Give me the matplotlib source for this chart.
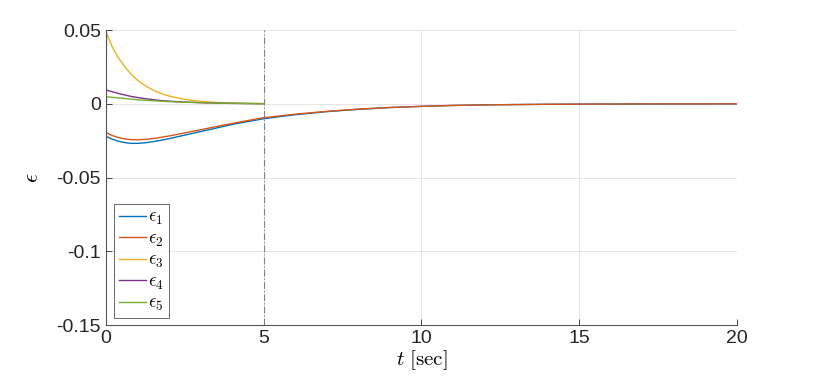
import matplotlib
matplotlib.use('Agg')
import matplotlib.pyplot as plt

plt.rcParams['font.family'] = ['Liberation Sans', 'DejaVu Sans']
plt.rcParams['mathtext.fontset'] = 'cm'

# time axes
t_long = [0, 0.02, 0.2, 0.4, 0.6, 0.8, 1.0, 1.25, 1.5, 1.75, 2.0,
          2.5, 3.0, 3.5, 4.0, 4.5, 5.0, 5.5, 6, 7, 8, 9, 10,
          11, 12, 13, 14, 15, 16, 17, 18, 19, 20]
t_short = [0, 0.02, 0.2, 0.4, 0.6, 0.8, 1.0, 1.25, 1.5, 1.75, 2.0,
           2.5, 3.0, 3.5, 4.0, 4.5, 5.0]

# errors
eps1 = [-0.0205, -0.0222, -0.0240, -0.0254, -0.0263, -0.0268, -0.0268, -0.0264, -0.0256, -0.0247, -0.0236,
        -0.0212, -0.0188, -0.0164, -0.0140, -0.0120, -0.0101, -0.0087, -0.0074, -0.0053, -0.0037, -0.0025, -0.0017,
        -0.0011, -0.0007, -0.0005, -0.0003, -0.0002, -0.00013, -0.00009, -0.00006, -0.00004, -0.00003]
eps2 = [-0.0185, -0.0197, -0.0215, -0.0229, -0.0238, -0.0243, -0.0244, -0.0241, -0.0235, -0.0227, -0.0218,
        -0.0197, -0.0176, -0.0154, -0.0133, -0.0113, -0.0094, -0.0082, -0.0070, -0.0051, -0.0036, -0.0025, -0.0017,
        -0.0011, -0.0007, -0.0005, -0.0003, -0.0002, -0.00013, -0.00009, -0.00006, -0.00004, -0.00003]
eps3 = [0.011, 0.048, 0.0385, 0.031, 0.025, 0.020, 0.016, 0.0122, 0.0092, 0.0070, 0.0053,
        0.0030, 0.0017, 0.0009, 0.0005, 0.0003, 0.0002]
eps4 = [0.0093, 0.0093, 0.0082, 0.0070, 0.0060, 0.0050, 0.0043, 0.0035, 0.0028, 0.0022, 0.0018,
        0.0012, 0.0008, 0.0005, 0.0003, 0.0002, 0.0001]
eps5 = [-0.009, 0.0048, 0.0044, 0.0040, 0.0036, 0.0032, 0.0028, 0.0024, 0.0021, 0.0018, 0.0015,
        0.0011, 0.0008, 0.0005, 0.0004, 0.0002, 0.0001]

labels = [r'$\epsilon_1$', r'$\epsilon_2$', r'$\epsilon_3$', r'$\epsilon_4$', r'$\epsilon_5$']
colors = ['#0072BD', '#D95319', '#EDB120', '#7E2F8E', '#77AC30']

xticks = [0, 5, 10, 15, 20]
yticks = [-0.15, -0.1, -0.05, 0, 0.05]
yticklabels = ['-0.15', '-0.1', '-0.05', '0', '0.05']
t_switch = 5

fig = plt.figure(figsize=(8.14, 3.86), dpi=100)
ax = fig.add_axes([0.1302, 0.158, 0.7752, 0.764])

series = [(t_long, eps1), (t_long, eps2), (t_short, eps3), (t_short, eps4), (t_short, eps5)]
for (t, e), lab, c in zip(series, labels, colors):
    ax.plot(t, e, color=c, lw=1.0, label=lab)

ax.axvline(t_switch, color='#808080', ls=(0, (6, 2, 1, 2)), lw=0.8)

ax.set_xlim(0, 20)
ax.set_ylim(-0.15, 0.05)
ax.set_xticks(xticks)
ax.set_xticklabels([str(x) for x in xticks])
ax.set_yticks(yticks)
ax.set_yticklabels(yticklabels)
ax.tick_params(direction='in', length=4, width=0.6, colors='#262626', labelsize=14)

ax.grid(True, color='#e6e6e6', lw=0.7)
ax.set_axisbelow(True)
for s in ['top', 'right']:
    ax.spines[s].set_visible(False)
for s in ['left', 'bottom']:
    ax.spines[s].set_color('#555555')
    ax.spines[s].set_linewidth(0.8)

ax.set_xlabel(r'$t\ \mathrm{[sec]}$', fontsize=15, labelpad=1)
ax.set_ylabel(r'$\epsilon$', fontsize=16, labelpad=10)

leg = ax.legend(loc='lower left', bbox_to_anchor=(0.0127, 0.0237), fontsize=13.5,
                frameon=True, fancybox=False, edgecolor='#262626',
                handlelength=1.45, handletextpad=0.12, labelspacing=0.17,
                borderpad=0.25, borderaxespad=0)
leg.get_frame().set_linewidth(0.6)

fig.savefig('out.png', dpi=100)
